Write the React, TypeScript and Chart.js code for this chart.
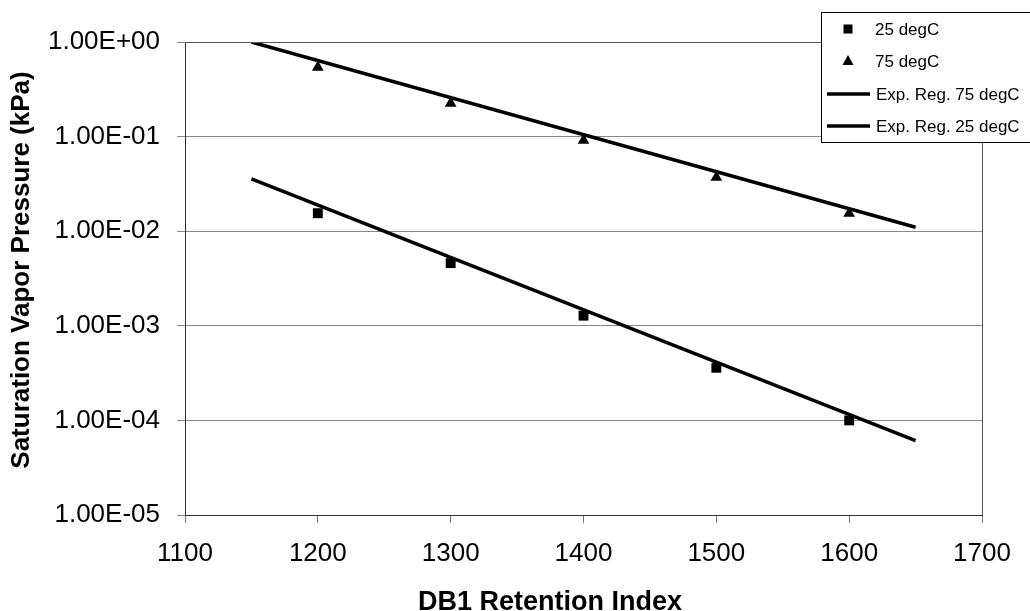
import React, { useEffect, useRef } from "react";
import { Chart, registerables } from "chart.js";

Chart.register(...registerables);

const retentionIndex = [1200, 1300, 1400, 1500, 1600];
const pressure25 = [0.0155, 0.0046, 0.00128, 0.00036, 0.0001];
const pressure75 = [0.54, 0.225, 0.091, 0.037, 0.0154];
const regressionX = [1150, 1650];
const regression75 = [1.0, 0.011];
const regression25 = [0.0357, 0.000061];
const yTickValues = [1e-5, 1e-4, 1e-3, 1e-2, 1e-1, 1];
const xTickLabels = ["1100", "1200", "1300", "1400", "1500", "1600", "1700"];
const seriesLabels = ["25 degC", "75 degC", "Exp. Reg. 75 degC", "Exp. Reg. 25 degC"];
const xTitle = "DB1 Retention Index";
const yTitle = "Saturation Vapor Pressure (kPa)";

const FONT = "'Liberation Sans', Arial, sans-serif";

function formatSci(v: number): string {
  const e = Math.round(Math.log10(v));
  const m = v / Math.pow(10, e);
  const sign = e < 0 ? "-" : "+";
  const abs = Math.abs(e);
  return m.toFixed(2) + "E" + sign + (abs < 10 ? "0" + abs : String(abs));
}

const framePlugin = {
  id: "frameAndLegend",
  afterDraw(chart: any) {
    const ctx = chart.ctx;
    const a = chart.chartArea;
    ctx.save();
    ctx.strokeStyle = "#555";
    ctx.lineWidth = 1;
    ctx.beginPath();
    ctx.moveTo(a.left, a.top + 0.5);
    ctx.lineTo(a.right + 0.5, a.top + 0.5);
    ctx.lineTo(a.right + 0.5, a.bottom);
    ctx.stroke();

    ctx.fillStyle = "#000";
    ctx.font = "bold 27px " + FONT;
    ctx.textAlign = "center";
    ctx.textBaseline = "alphabetic";
    ctx.fillText(xTitle, 550, 610);
    ctx.save();
    ctx.translate(29, 270);
    ctx.rotate(-Math.PI / 2);
    ctx.font = "bold 26px " + FONT;
    ctx.fillText(yTitle, 0, 0);
    ctx.restore();

    ctx.fillStyle = "#fff";
    ctx.fillRect(821, 12, 220, 130);
    ctx.strokeStyle = "#000";
    ctx.lineWidth = 1;
    ctx.strokeRect(821.5, 12.5, 220, 130);
    const rows = [29, 61, 94, 126];
    ctx.font = "17px " + FONT;
    ctx.textAlign = "left";
    ctx.textBaseline = "middle";
    chart.data.datasets.forEach((ds: any, i: number) => {
      const y = rows[i];
      ctx.fillStyle = "#000";
      ctx.strokeStyle = "#000";
      if (ds.showLine) {
        ctx.lineWidth = 3.5;
        ctx.beginPath();
        ctx.moveTo(827, y);
        ctx.lineTo(870, y);
        ctx.stroke();
        ctx.fillText(ds.label, 876, y + 1);
      } else {
        if (ds.pointStyle === "rect") {
          ctx.fillRect(843.5, y - 4.5, 9, 9);
        } else {
          ctx.beginPath();
          ctx.moveTo(848, y - 6);
          ctx.lineTo(853.5, y + 4);
          ctx.lineTo(842.5, y + 4);
          ctx.closePath();
          ctx.fill();
        }
        ctx.fillText(ds.label, 875, y + 1);
      }
    });
    ctx.restore();
  },
};

export default function App() {
  const ref = useRef<HTMLCanvasElement | null>(null);
  useEffect(() => {
    if (!ref.current) return;
    const chart = new Chart(ref.current, {
      type: "scatter",
      data: {
        datasets: [
          {
            label: seriesLabels[0],
            data: retentionIndex.map((x, i) => ({ x, y: pressure25[i] })),
            pointStyle: "rect",
            pointRadius: 7,
            backgroundColor: "#000",
            borderColor: "#000",
            borderWidth: 0,
            showLine: false,
            order: 0,
          },
          {
            label: seriesLabels[1],
            data: retentionIndex.map((x, i) => ({ x, y: pressure75[i] })),
            pointStyle: "triangle",
            pointRadius: 6.8,
            backgroundColor: "#000",
            borderColor: "#000",
            borderWidth: 0,
            showLine: false,
            order: 0,
          },
          {
            label: seriesLabels[2],
            data: regressionX.map((x, i) => ({ x, y: regression75[i] })),
            showLine: true,
            pointRadius: 0,
            borderColor: "#000",
            borderWidth: 3.5,
            order: 1,
          },
          {
            label: seriesLabels[3],
            data: regressionX.map((x, i) => ({ x, y: regression25[i] })),
            showLine: true,
            pointRadius: 0,
            borderColor: "#000",
            borderWidth: 3.5,
            order: 1,
          },
        ] as any,
      },
      options: {
        animation: false,
        responsive: false,
        devicePixelRatio: 1,
        layout: { padding: { top: 42, right: 48, left: 0, bottom: 0 } },
        plugins: {
          legend: { display: false },
          tooltip: { enabled: false },
        },
        scales: {
          x: {
            type: "linear",
            min: 1100,
            max: 1700,
            afterBuildTicks: (scale: any) => {
              scale.ticks = xTickLabels.map((t) => ({ value: Number(t) }));
            },
            afterFit: (scale: any) => {
              scale.height = 96;
            },
            ticks: {
              font: { family: FONT, size: 26 },
              color: "#000",
              padding: 15,
              maxRotation: 0,
              autoSkip: false,
              callback: (v: any) => String(v),
            },
            grid: {
              display: true,
              drawOnChartArea: false,
              drawTicks: true,
              tickLength: 8,
              color: "#777",
            },
            border: { display: true, color: "#333", width: 1 },
          },
          y: {
            type: "logarithmic",
            min: 1e-5,
            max: 1,
            afterBuildTicks: (scale: any) => {
              scale.ticks = yTickValues.map((v) => ({ value: v, major: true }));
            },
            afterFit: (scale: any) => {
              scale.width = 185;
            },
            ticks: {
              font: { family: FONT, size: 26 },
              color: "#000",
              padding: 17,
              autoSkip: false,
              callback: (v: any) => formatSci(Number(v)),
            },
            grid: {
              display: true,
              drawTicks: true,
              tickLength: 8,
              color: "#888",
              lineWidth: 1,
            },
            border: { display: true, color: "#333", width: 1 },
          },
        },
      } as any,
      plugins: [framePlugin],
    });
    return () => chart.destroy();
  }, []);
  return (
    <div style={{ position: "absolute", left: 0, top: 0, width: 1030, height: 611, background: "#fff" }}>
      <canvas ref={ref} width={1030} height={611} style={{ width: 1030, height: 611, display: "block" }} />
    </div>
  );
}
